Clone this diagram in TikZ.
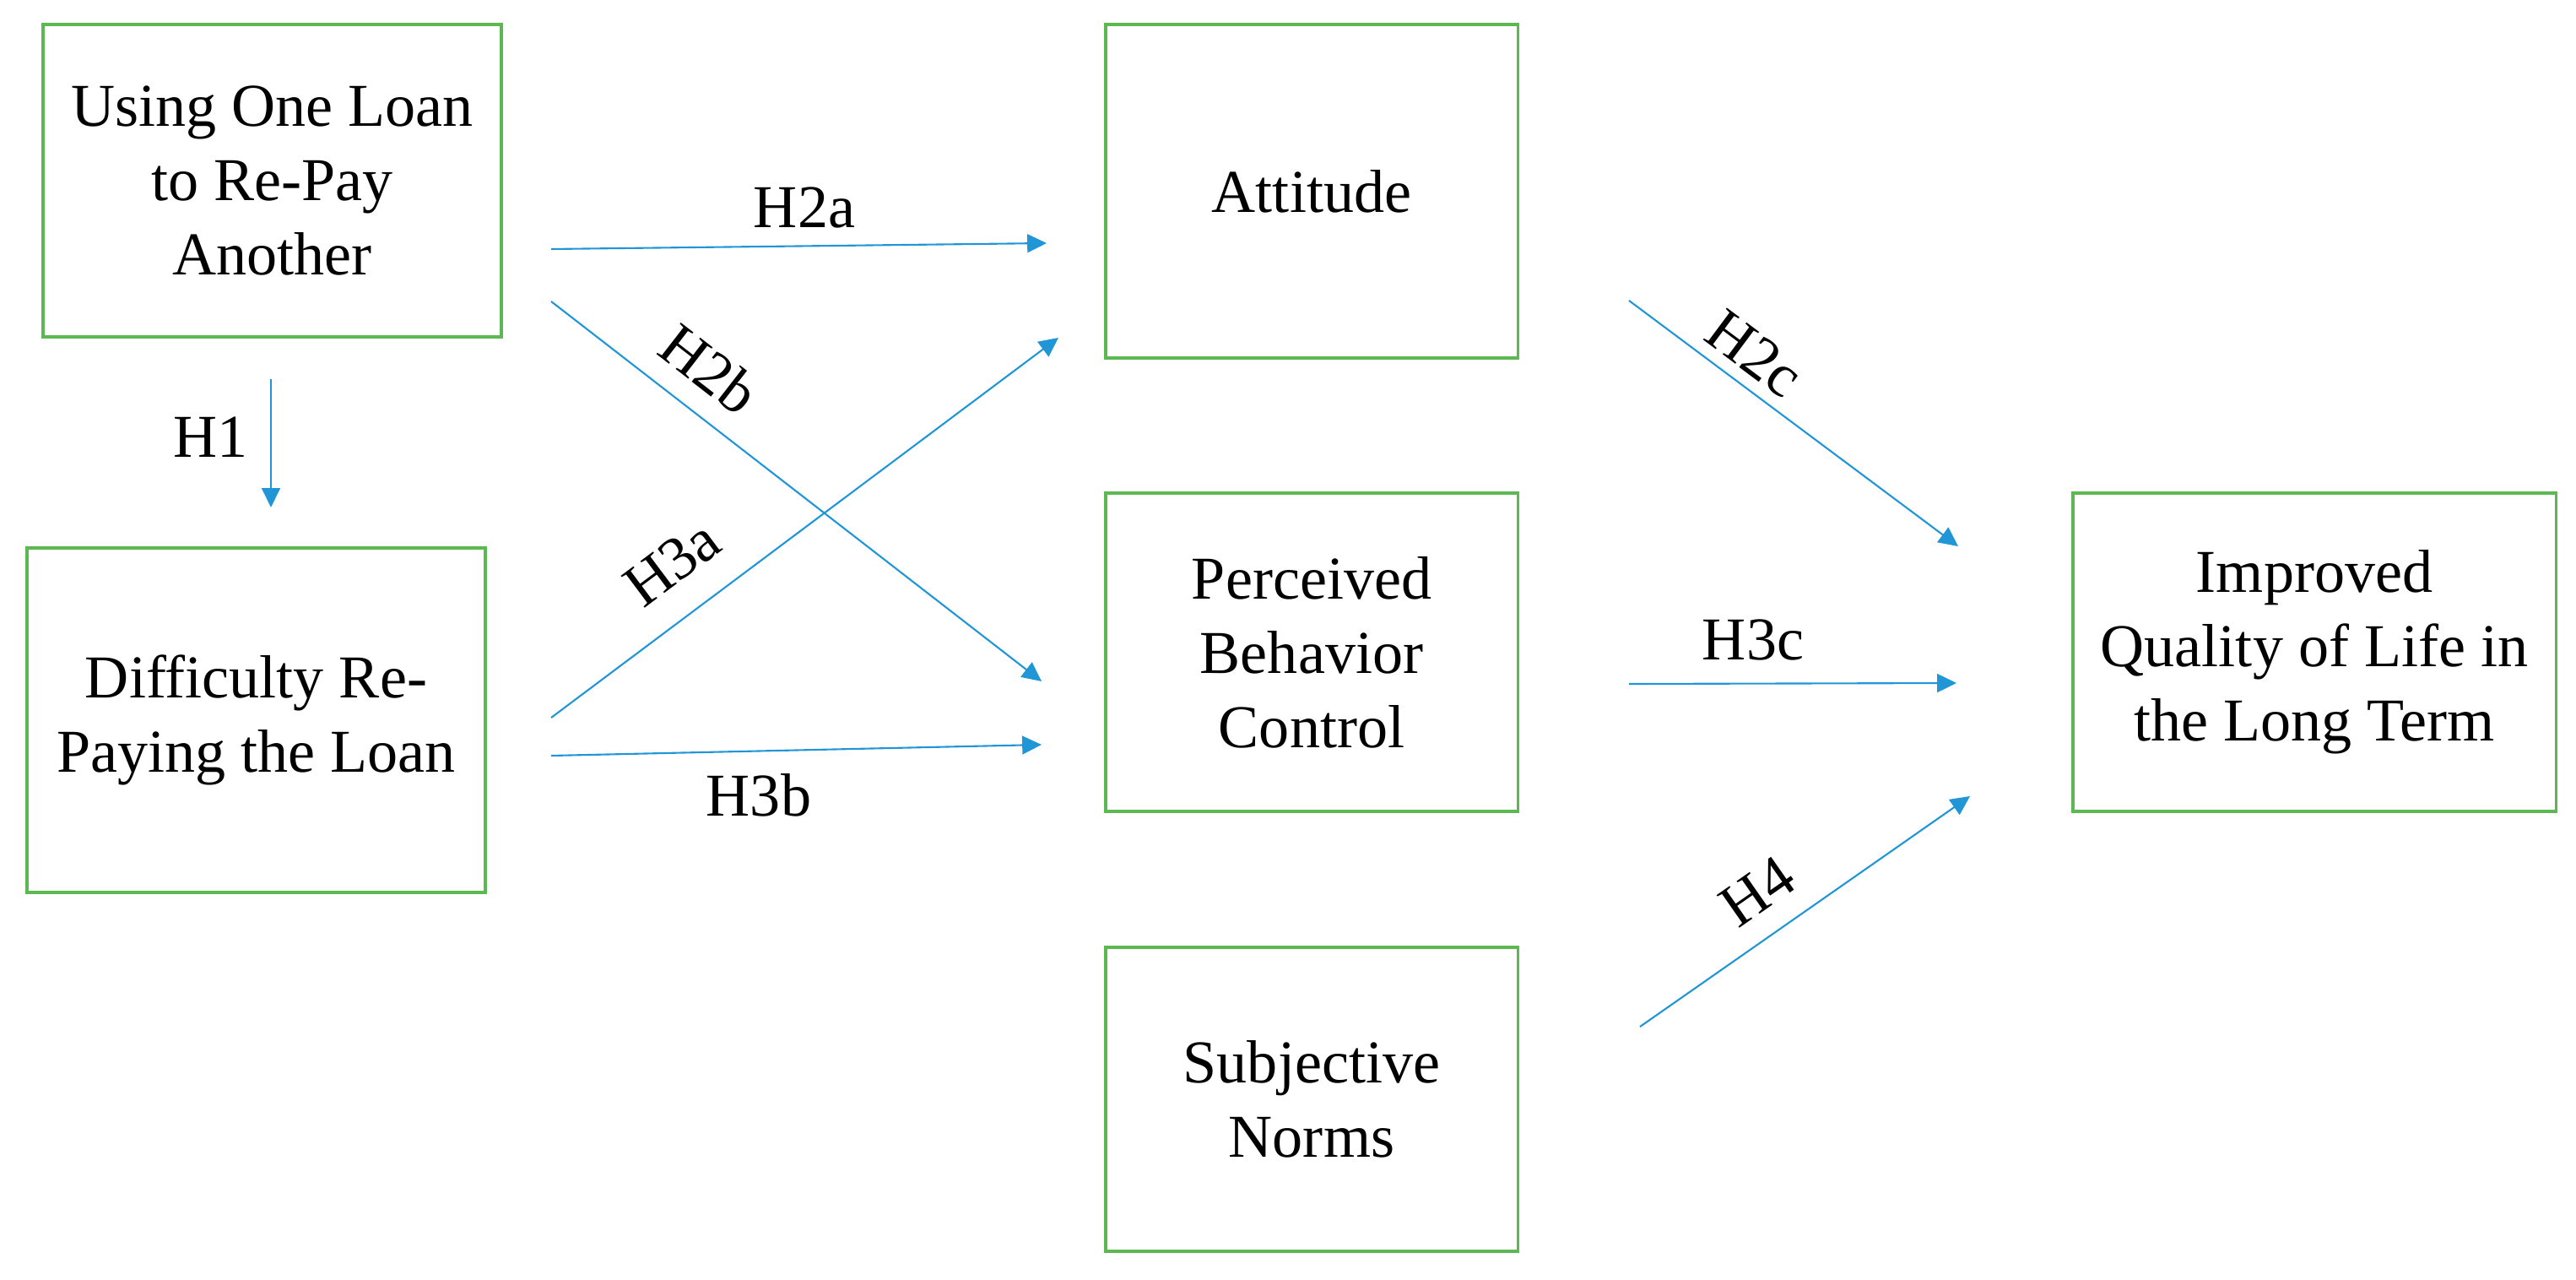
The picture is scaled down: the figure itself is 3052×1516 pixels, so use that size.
\documentclass[tikz,border=0pt]{standalone}
\usepackage{fontspec}
\setmainfont{LiberationSerif}[Extension=.ttf, UprightFont=*-Regular, BoldFont=*-Bold, ItalicFont=*-Italic, BoldItalicFont=*-BoldItalic]
\usetikzlibrary{arrows.meta}
\definecolor{boxgreen}{RGB}{92,184,80}
\definecolor{arrblue}{RGB}{33,150,215}
\tikzset{
  box/.style={draw=boxgreen, line width=0.95pt, rectangle, align=center, inner sep=0pt,
    font=\rmfamily\fontsize{20.5pt}{25pt}\selectfont},
  conn/.style={draw=arrblue, line width=0.6pt, -{Triangle[length=6.5pt,width=6.2pt]}},
  lbl/.style={font=\rmfamily\fontsize{20.5pt}{25pt}\selectfont, inner sep=0pt}
}
\begin{document}
\begin{tikzpicture}[x=0.01cm,y=-0.01cm]
\useasboundingbox (0,0) rectangle (3052,1516);
% boxes
\node[box, minimum width=5.43cm, minimum height=3.70cm] (b1) at (322.5,214) {Using One Loan\\to Re-Pay\\Another};
\node[box, minimum width=5.43cm, minimum height=4.08cm] (b2) at (303.5,853) {Difficulty Re-\\Paying the Loan};
\node[box, minimum width=4.88cm, minimum height=3.95cm] (att) at (1554,226.5) {Attitude};
\node[box, minimum width=4.88cm, minimum height=3.77cm] (pbc) at (1554,772.5) {Perceived\\Behavior\\Control};
\node[box, minimum width=4.88cm, minimum height=3.60cm] (sn) at (1554,1302) {Subjective\\Norms};
\node[box, minimum width=5.72cm, minimum height=3.77cm] (qol) at (2742,772.5) {Improved\\Quality of Life in\\the Long Term};
% connector end points
\coordinate (h1s) at (321,449);   \coordinate (h1e) at (321,601);
\coordinate (h2as) at (653,295);  \coordinate (h2ae) at (1240,288);
\coordinate (h2bs) at (653,357);  \coordinate (h2be) at (1234,807);
\coordinate (h3as) at (653,850);  \coordinate (h3ae) at (1254,400);
\coordinate (h3bs) at (653,895);  \coordinate (h3be) at (1234,882);
\coordinate (h2cs) at (1930,356); \coordinate (h2ce) at (2320,647);
\coordinate (h3cs) at (1930,810); \coordinate (h3ce) at (2318,809);
\coordinate (h4s) at (1943,1216); \coordinate (h4e) at (2334,943);
% connectors
\draw[conn] (h1s) -- (h1e);
\draw[conn] (h2as) -- (h2ae);
\draw[conn] (h2bs) -- (h2be);
\draw[conn] (h3as) -- (h3ae);
\draw[conn] (h3bs) -- (h3be);
\draw[conn] (h2cs) -- (h2ce);
\draw[conn] (h3cs) -- (h3ce);
\draw[conn] (h4s) -- (h4e);
% labels
\node[lbl] (lh1) at (250,518) {H1};
\node[lbl] (lh2a) at (953,246) {H2a};
\node[lbl, rotate=-37.8] (lh2b) at (841,437) {H2b};
\node[lbl, rotate=36.8] (lh3a) at (796,667) {H3a};
\node[lbl] (lh3b) at (899,942) {H3b};
\node[lbl, rotate=-36.7] (lh2c) at (2079,419) {H2c};
\node[lbl] (lh3c) at (2077,758) {H3c};
\node[lbl, rotate=34.9] (lh4) at (2082,1056) {H4};
\end{tikzpicture}
\end{document}
